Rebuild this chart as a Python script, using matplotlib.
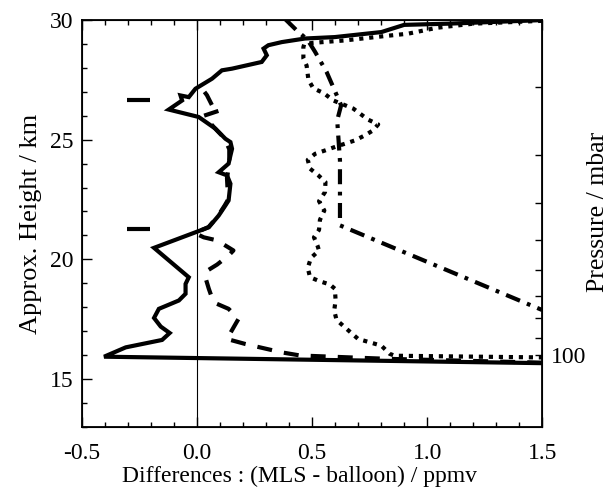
import numpy as np
import matplotlib
matplotlib.use("Agg")
import matplotlib.pyplot as plt
from matplotlib.ticker import MultipleLocator

plt.rcParams['font.family'] = ['Liberation Serif', 'DejaVu Serif']

# solid profile (difference, height km)
solid_x = [1.50, -0.404, -0.31, -0.152, -0.119, -0.158, -0.187, -0.166, -0.079, -0.050,
           -0.050, -0.036, -0.187, -0.007, 0.051, 0.094, 0.123, 0.137, 0.145, 0.130,
           0.094, 0.137, 0.145, 0.152, 0.145, 0.123, 0.080, 0.007, -0.123, -0.065,
           -0.072, -0.036, -0.007, 0.065, 0.108, 0.152, 0.281, 0.303, 0.289, 0.310,
           0.368, 0.469, 0.599, 0.801, 0.90, 1.09, 1.50]
solid_z = [15.66, 15.93, 16.32, 16.63, 16.92, 17.19, 17.55, 17.93, 18.28, 18.56,
           18.97, 19.25, 20.48, 21.13, 21.34, 21.83, 22.25, 22.46, 23.16, 23.51,
           23.64, 24.00, 24.34, 24.62, 24.90, 25.04, 25.46, 25.95, 26.26, 26.64,
           26.85, 26.78, 27.13, 27.55, 27.90, 27.97, 28.25, 28.53, 28.81, 28.95,
           29.08, 29.23, 29.29, 29.50, 29.80, 29.85, 30.00]

# dashed profile
dash_x = [1.50, 0.829, 0.448, 0.368, 0.21, 0.13, 0.159, 0.18, 0.137, 0.072, 0.051,
          0.036, 0.04, 0.087, 0.137, 0.158, 0.087, 0.029, -0.010, 0.05, 0.09,
          0.12, 0.135, 0.13, 0.14, 0.14, 0.12, 0.08, 0.029, 0.101, 0.065, 0.043, 0.022]
dash_z = [15.68, 15.84, 15.98, 16.11, 16.46, 16.67, 17.16, 17.51, 17.93, 18.20, 18.77,
          19.25, 19.50, 19.78, 20.16, 20.37, 20.79, 20.92, 21.10, 21.35, 21.80,
          22.25, 22.50, 23.40, 24.00, 24.60, 25.05, 25.45, 26.00, 26.23, 26.44, 26.86, 27.13]

# dash-dot profile
dd_x = [0.383, 0.436, 0.480, 0.513, 0.563, 0.626, 0.609, 0.621, 0.621, 1.50]
dd_z = [30.04, 29.54, 29.18, 28.67, 27.83, 26.44, 25.81, 24.13, 21.42, 17.88]

# dotted profile
dot_x = [1.50, 1.20, 1.043, 0.916, 0.823, 0.642, 0.505, 0.466, 0.462, 0.462, 0.476,
         0.484, 0.505, 0.55, 0.592, 0.679, 0.743, 0.787, 0.765, 0.729, 0.686, 0.642,
         0.606, 0.556, 0.513, 0.481, 0.491, 0.527, 0.558, 0.556, 0.530, 0.553, 0.534,
         0.530, 0.508, 0.523, 0.530, 0.495, 0.481, 0.491, 0.534, 0.577, 0.599, 0.602,
         0.596, 0.606, 0.642, 0.700, 0.751, 0.801, 0.837, 0.859, 1.50]
dot_z = [29.97, 29.85, 29.68, 29.43, 29.34, 29.15, 29.05, 29.00, 28.87, 28.40, 28.10,
         27.50, 27.15, 26.95, 26.64, 26.30, 25.84, 25.64, 25.39, 25.18, 24.97, 24.83,
         24.72, 24.55, 24.41, 24.16, 23.79, 23.51, 23.23, 22.81, 22.43, 22.04, 21.65,
         21.23, 20.92, 20.58, 20.37, 20.06, 19.64, 19.25, 19.08, 18.95, 18.77, 18.28,
         17.86, 17.47, 17.16, 16.67, 16.53, 16.39, 16.05, 15.97, 15.90]

# short bars on the left
bar_z = [26.67, 21.28]
bar_x0 = -0.305
bar_x1 = -0.205

# pressure ticks on the right (mbar), 100 mbar ~ 16 km, scale height 6.95 km
p_ticks = [100, 90, 80, 70, 60, 50, 40, 30, 20]
p_heights = [16.0 + 6.95 * np.log(100.0 / p) for p in p_ticks]

fig = plt.figure(figsize=(6.12, 4.90), dpi=100)
ax = fig.add_axes([0.134, 0.129, 0.752, 0.830])

ax.axvline(0.0, color='black', lw=0.8, zorder=1)
ax.plot(dash_x, dash_z, color='black', lw=3.0, linestyle=(0, (3.6, 2.9)), zorder=2)
ax.plot(dd_x, dd_z, color='black', lw=3.0, linestyle=(0, (3.6, 1.8, 0.9, 1.8)), zorder=2)
ax.plot(dot_x, dot_z, color='black', lw=3.0, linestyle=(0, (1.0, 1.4)), zorder=2)
ax.plot(solid_x, solid_z, color='black', lw=3.0, zorder=3, solid_joinstyle='miter')
ax.hlines(bar_z, bar_x0, bar_x1, color='black', lw=3.0)

ax.set_xlim(-0.5, 1.5)
ax.set_ylim(13, 30)
ax.set_xticks([-0.5, 0.0, 0.5, 1.0, 1.5])
ax.set_xticklabels(['-0.5', '0.0', '0.5', '1.0', '1.5'])
ax.xaxis.set_minor_locator(MultipleLocator(0.1))
ax.set_yticks([15, 20, 25, 30])
ax.yaxis.set_minor_locator(MultipleLocator(1))
ax.tick_params(which='both', direction='in', top=True, right=False, labelsize=17, width=1)
ax.tick_params(which='major', length=7)
ax.tick_params(which='minor', length=3.6)
ax.tick_params(axis='x', which='major', pad=12)
ax.tick_params(axis='y', which='major', pad=6)
for s in ax.spines.values():
    s.set_linewidth(1.3)

ax.set_xlabel('Differences : (MLS - balloon) / ppmv', fontsize=17)
ax.xaxis.set_label_coords(0.472, -0.095)
ax.set_ylabel('Approx. Height / km', fontsize=19, labelpad=6)

ax2 = ax.twinx()
ax2.set_ylim(13, 30)
ax2.set_yticks(p_heights)
ax2.set_yticklabels(['100'] + [''] * (len(p_ticks) - 1))
ax2.tick_params(direction='in', length=5, labelsize=17, width=1, pad=6)
ax2.set_ylabel('Pressure / mbar', fontsize=18.5)
ax2.yaxis.set_label_coords(1.097, 0.528)

fig.savefig('out.png', dpi=100)
